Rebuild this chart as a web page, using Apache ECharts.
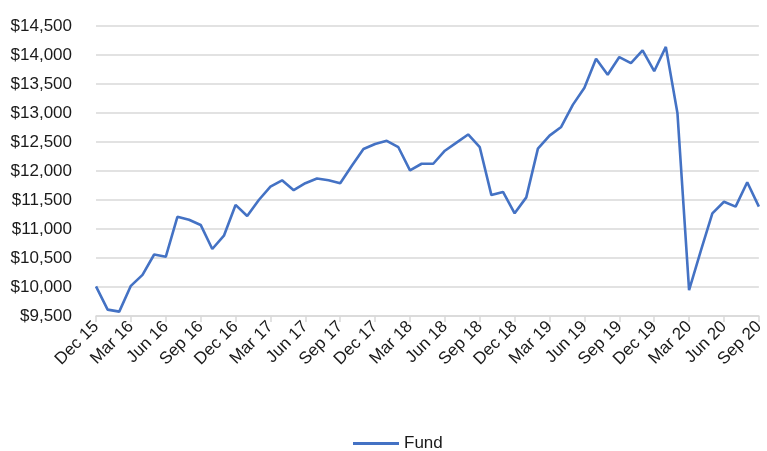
<!DOCTYPE html>
<html lang="en">
<head>
    <meta charset="UTF-8">
    <title>Fund</title>
    <script src="https://cdn.jsdelivr.net/npm/echarts@6/dist/echarts.min.js"></script>
    <style>
        html, body {margin: 0; padding: 0; background: #fff;}
        #main {width: 767px; height: 451px;}
    </style>
</head>
<body>
    <div id="main"></div>
    <script>
        // monthly categories, Dec 15 .. Sep 20
        var months = [
            'Dec 15',
            'Jan 16', 'Feb 16', 'Mar 16', 'Apr 16', 'May 16', 'Jun 16', 'Jul 16', 'Aug 16', 'Sep 16', 'Oct 16', 'Nov 16', 'Dec 16',
            'Jan 17', 'Feb 17', 'Mar 17', 'Apr 17', 'May 17', 'Jun 17', 'Jul 17', 'Aug 17', 'Sep 17', 'Oct 17', 'Nov 17', 'Dec 17',
            'Jan 18', 'Feb 18', 'Mar 18', 'Apr 18', 'May 18', 'Jun 18', 'Jul 18', 'Aug 18', 'Sep 18', 'Oct 18', 'Nov 18', 'Dec 18',
            'Jan 19', 'Feb 19', 'Mar 19', 'Apr 19', 'May 19', 'Jun 19', 'Jul 19', 'Aug 19', 'Sep 19', 'Oct 19', 'Nov 19', 'Dec 19',
            'Jan 20', 'Feb 20', 'Mar 20', 'Apr 20', 'May 20', 'Jun 20', 'Jul 20', 'Aug 20', 'Sep 20'
        ];
        // fund value ($)
        var fund = [
            10010,
            9610, 9575, 10020, 10210, 10560, 10520, 11210, 11160, 11070, 10655, 10885, 11415,
            11225, 11500, 11730, 11840, 11670, 11790, 11870, 11840, 11790, 12090, 12380, 12465,
            12520, 12410, 12010, 12125, 12125, 12350, 12490, 12630, 12410, 11585, 11640, 11270,
            11545, 12385, 12610, 12760, 13140, 13435, 13935, 13660, 13965, 13860, 14080, 13720,
            14140, 12995, 9945, 10620, 11270, 11470, 11385, 11805, 11385
        ];

        var font = 'Liberation Sans, Arial, sans-serif';
        var myChart = echarts.init(document.getElementById('main'));
        var option = {
            animation: false,
            grid: {left: 96, right: 4, top: 26, bottom: 135},
            legend: {
                top: 435,
                left: 353,
                padding: 0,
                data: ['Fund'],
                icon: 'rect',
                itemWidth: 46,
                itemHeight: 3,
                itemGap: 4,
                textStyle: {fontFamily: font, fontSize: 17, color: '#1a1a1a'}
            },
            xAxis: {
                type: 'category',
                boundaryGap: false,
                data: months,
                axisLine: {lineStyle: {color: '#d9d9d9', width: 1.5}},
                axisTick: {interval: 2, length: 6, lineStyle: {color: '#d9d9d9', width: 1.5}},
                axisLabel: {
                    interval: 2,
                    rotate: 45,
                    margin: 8,
                    fontFamily: font,
                    fontSize: 17,
                    color: '#1a1a1a'
                },
                splitLine: {show: false}
            },
            yAxis: {
                type: 'value',
                min: 9500,
                max: 14500,
                interval: 500,
                axisLine: {show: false},
                axisTick: {show: false},
                axisLabel: {
                    margin: 24,
                    fontFamily: font,
                    fontSize: 17,
                    color: '#1a1a1a',
                    formatter: function (v) {
                        return '$' + v.toLocaleString('en-US');
                    }
                },
                splitLine: {lineStyle: {color: '#d9d9d9', width: 1.5}}
            },
            series: [{
                name: 'Fund',
                type: 'line',
                data: fund,
                showSymbol: false,
                color: '#4472C4',
                lineStyle: {width: 2.6, color: '#4472C4'}
            }]
        };
        myChart.setOption(option);
    </script>
</body>
</html>
